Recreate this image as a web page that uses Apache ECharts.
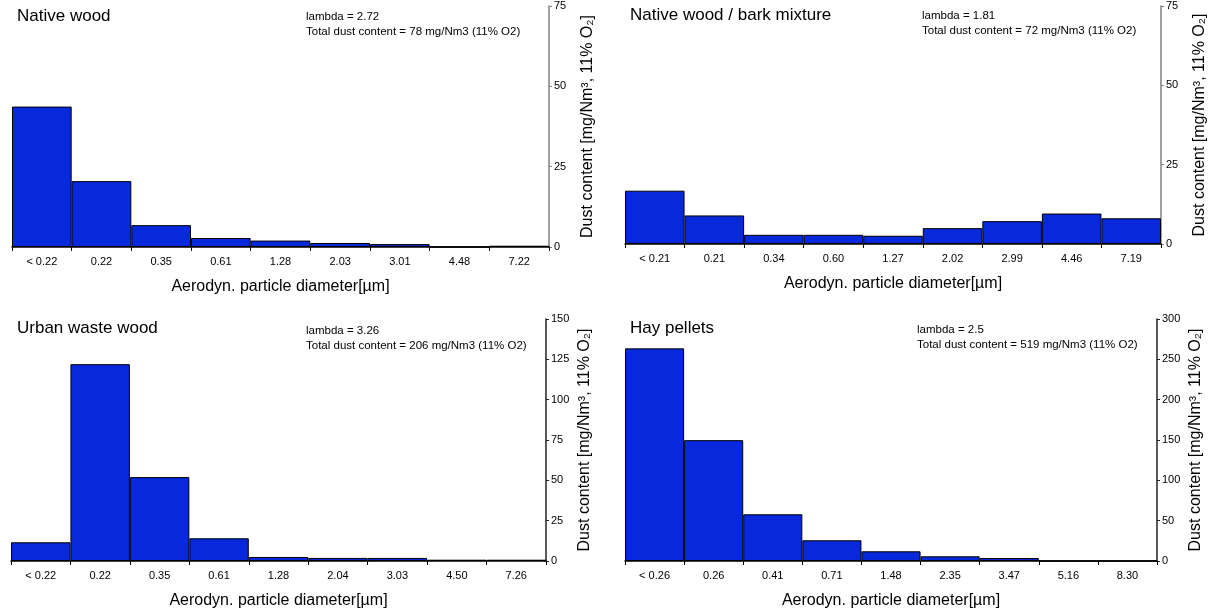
<!DOCTYPE html>
<html>
<head>
<meta charset="utf-8">
<script src="https://cdn.jsdelivr.net/npm/echarts@6/dist/echarts.min.js"></script>
<style>
  html, body { margin: 0; padding: 0; background: #fff; }
  #chart { width: 1211px; height: 613px; }
</style>
</head>
<body>
<div id="chart"></div>
<script>
// 数据
const nativeCats = ['< 0.22', '0.22', '0.35', '0.61', '1.28', '2.03', '3.01', '4.48', '7.22']
const nativeVals = [43.7, 20.5, 6.8, 2.8, 2.0, 1.25, 0.9, 0, 0.4]

const barkCats = ['< 0.21', '0.21', '0.34', '0.60', '1.27', '2.02', '2.99', '4.46', '7.19']
const barkVals = [16.8, 9.0, 2.9, 2.9, 2.6, 5.0, 7.2, 9.6, 8.1]

const urbanCats = ['< 0.22', '0.22', '0.35', '0.61', '1.28', '2.04', '3.03', '4.50', '7.26']
const urbanVals = [11.6, 122, 52, 14.1, 2.5, 1.9, 1.9, 0.8, 0.8]

const hayCats = ['< 0.26', '0.26', '0.41', '0.71', '1.48', '2.35', '3.47', '5.16', '8.30']
const hayVals = [263.6, 149.8, 57.9, 25.7, 12, 5.8, 3.7, 0, 0]

const panelNames = ['Native wood', 'Native wood / bark mixture', 'Urban waste wood', 'Hay pellets']
const lambdas = ['2.72', '1.81', '3.26', '2.5']
const totals = ['78', '72', '206', '519']
const yMax = [75, 75, 150, 300]
const yStep = [25, 25, 25, 50]

const FONT = 'Liberation Sans, Arial, sans-serif'

// layout of the 4 panels (pixels)
const layout = [
    { left: 12, top: 6, width: 537, height: 241, titleX: 17, titleY: 8, statX: 306, statY: 10, yAxisColor: '#808080' },
    { left: 625, top: 6, width: 536, height: 238, titleX: 630, titleY: 7, statX: 922, statY: 9, yAxisColor: '#808080' },
    { left: 11, top: 319, width: 535, height: 242, titleX: 17, titleY: 320, statX: 306, statY: 324, yAxisColor: '#222' },
    { left: 625, top: 319, width: 532, height: 242, titleX: 630, titleY: 320, statX: 917, statY: 323, yAxisColor: '#222' }
]

const cats = [nativeCats, barkCats, urbanCats, hayCats]
const vals = [nativeVals, barkVals, urbanVals, hayVals]

const mychart = echarts.init(document.getElementById('chart'))

const titles = []
const grids = []
const xAxes = []
const yAxes = []
const series = []

layout.forEach((p, i) => {
    //标题
    titles.push({
        text: panelNames[i],
        left: p.titleX, top: p.titleY, padding: 0,
        textStyle: { fontFamily: FONT, fontSize: 17, fontWeight: 'normal', color: '#000' }
    })
    titles.push({
        text: 'lambda = ' + lambdas[i] + '\nTotal dust content = ' + totals[i] + ' mg/Nm3 (11% O2)',
        left: p.statX, top: p.statY, padding: 0,
        textStyle: { fontFamily: FONT, fontSize: 11.5, fontWeight: 'normal', color: '#000', lineHeight: 14.5 }
    })
    grids.push({ left: p.left, top: p.top, width: p.width, height: p.height, containLabel: false })
    xAxes.push({
        type: 'category',
        gridIndex: i,
        data: cats[i],
        boundaryGap: true,
        name: 'Aerodyn. particle diameter[µm]',
        nameLocation: 'middle',
        nameGap: 32,
        nameTextStyle: { fontFamily: FONT, fontSize: 16, color: '#000' },
        axisLine: { lineStyle: { color: '#000', width: 1.5 } },
        axisTick: { show: true, length: 4, lineStyle: { color: '#000' } },
        axisLabel: { fontFamily: FONT, fontSize: 11, color: '#000', margin: 9 },
        splitLine: { show: false }
    })
    yAxes.push({
        type: 'value',
        gridIndex: i,
        position: 'right',
        min: 0,
        max: yMax[i],
        interval: yStep[i],
        name: 'Dust content [mg/Nm³, 11% O₂]',
        nameLocation: 'middle',
        nameRotate: 90,
        nameGap: 31,
        nameTextStyle: { fontFamily: FONT, fontSize: 16, color: '#000' },
        axisLine: { show: true, lineStyle: { color: p.yAxisColor, width: 1.5 } },
        axisTick: { show: true, length: 3, lineStyle: { color: p.yAxisColor } },
        axisLabel: { fontFamily: FONT, fontSize: 11, color: '#000', margin: 5 },
        splitLine: { show: false }
    })
    series.push({
        type: 'bar',
        xAxisIndex: i,
        yAxisIndex: i,
        data: vals[i],
        barCategoryGap: '0%',
        itemStyle: { color: '#0828dc', borderColor: '#000', borderWidth: 1 },
        silent: true
    })
})

const option = {
    animation: false,
    backgroundColor: '#fff',
    title: titles,
    grid: grids,
    xAxis: xAxes,
    yAxis: yAxes,
    series: series
}
mychart.setOption(option)
</script>
</body>
</html>
